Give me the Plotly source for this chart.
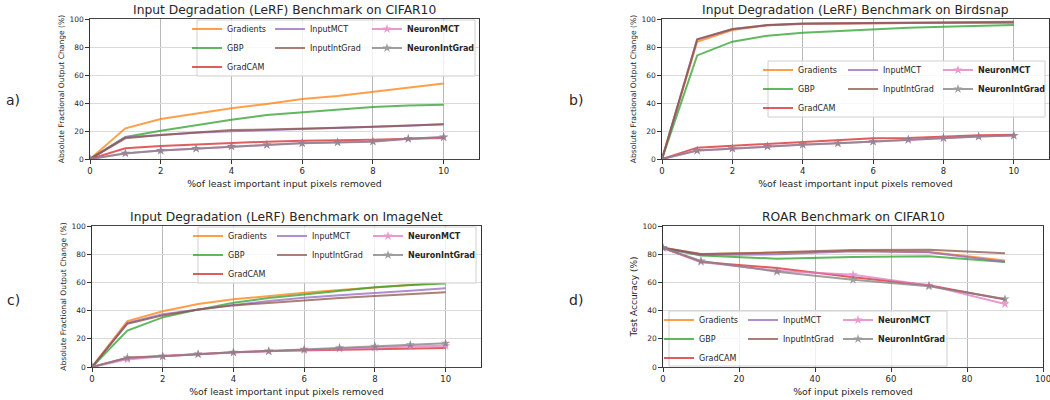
import plotly.graph_objects as go

# ---------------- data ----------------
x_lerf = [0, 1, 2, 3, 4, 5, 6, 7, 8, 9, 10]
x_roar = [0, 10, 30, 50, 70, 90]

method_names = ["Gradients", "GBP", "GradCAM", "InputMCT", "InputIntGrad",
                "<b>NeuronMCT</b>", "<b>NeuronIntGrad</b>"]

cifar_gradients = [0, 21.9, 28.6, 32.6, 36.2, 39.3, 42.9, 45.0, 47.9, 51.2, 54.0]
cifar_gbp = [0, 15.7, 20.2, 24.3, 28.1, 31.4, 33.3, 35.5, 37.1, 38.3, 38.8]
cifar_gradcam = [0, 7.6, 9.3, 10.5, 11.4, 12.4, 13.1, 13.3, 13.8, 14.5, 15.0]
cifar_inputmct = [0, 15.5, 17.1, 18.8, 19.8, 20.5, 21.7, 22.4, 23.1, 23.8, 24.8]
cifar_inputintgrad = [0, 14.8, 17.1, 19.0, 20.7, 21.0, 21.9, 22.4, 23.1, 23.8, 24.8]
cifar_neuronmct = [0, 4.2, 6.1, 7.5, 9.1, 10.1, 11.4, 12.0, 12.6, 14.4, 15.5]
cifar_neuronintgrad = [0, 4.0, 6.0, 7.4, 9.0, 10.0, 11.2, 11.9, 12.4, 14.5, 15.7]

birdsnap_gradients = [0, 83.8, 92.1, 95.5, 96.5, 96.9, 97.1, 97.2, 97.3, 97.4, 97.5]
birdsnap_gbp = [0, 74.0, 83.8, 88.1, 90.2, 91.4, 93.1, 93.8, 94.5, 95.2, 95.7]
birdsnap_gradcam = [0, 8.1, 9.5, 10.7, 12.4, 13.3, 14.8, 15.0, 16.2, 16.9, 17.4]
birdsnap_inputmct = [0, 85.3, 92.7, 95.6, 96.6, 96.9, 97.0, 97.1, 97.2, 97.3, 97.4]
birdsnap_inputintgrad = [0, 85.5, 92.9, 95.7, 96.7, 97.0, 97.2, 97.4, 97.6, 97.8, 98.0]
birdsnap_neuronmct = [0, 6.1, 7.5, 9.1, 10.3, 11.3, 12.5, 13.9, 15.1, 16.1, 16.8]
birdsnap_neuronintgrad = [0, 6.0, 7.4, 9.0, 10.2, 11.2, 12.4, 13.8, 15.0, 16.0, 16.7]

imagenet_gradients = [0, 32.6, 39.5, 44.7, 48.0, 50.6, 52.7, 54.6, 56.5, 58.4, 60.0]
imagenet_gbp = [0, 25.8, 35.2, 40.7, 45.6, 48.9, 51.5, 53.9, 56.5, 58.2, 59.3]
imagenet_gradcam = [0, 6.6, 7.8, 9.2, 10.4, 11.3, 11.8, 12.3, 12.5, 13.0, 13.5]
imagenet_inputmct = [0, 31.2, 37.4, 40.9, 44.0, 46.8, 49.2, 50.8, 52.7, 54.1, 55.8]
imagenet_inputintgrad = [0, 30.7, 36.6, 40.7, 43.7, 45.6, 47.0, 48.9, 50.4, 51.5, 53.0]
imagenet_neuronmct = [0, 5.4, 7.6, 9.0, 10.2, 11.1, 12.0, 13.0, 13.8, 14.5, 15.1]
imagenet_neuronintgrad = [0, 6.6, 7.6, 9.2, 10.4, 11.3, 12.5, 13.7, 14.7, 15.8, 16.8]

roar_gradients = [84.5, 79.9, 81.1, 82.3, 81.6, 75.6]
roar_gbp = [84.5, 79.0, 76.8, 78.0, 78.5, 74.5]
roar_gradcam = [84.5, 74.5, 70.2, 63.6, 57.9, 47.8]
roar_inputmct = [84.5, 79.4, 79.9, 82.1, 81.3, 74.7]
roar_inputintgrad = [84.5, 80.1, 81.3, 83.0, 83.2, 80.6]
roar_neuronmct = [84.5, 74.5, 68.3, 65.5, 57.9, 44.7]
roar_neuronintgrad = [84.5, 75.2, 67.6, 61.9, 57.2, 48.2]

titles = ["Input Degradation (LeRF) Benchmark on CIFAR10",
          "Input Degradation (LeRF) Benchmark on Birdsnap",
          "Input Degradation (LeRF) Benchmark on ImageNet",
          "ROAR Benchmark on CIFAR10"]
panel_labels = ["a)", "b)", "c)", "d)"]
xlabels = ["%of least important input pixels removed"] * 3 + ["%of input pixels removed"]
ylabels = ["Absolute Fractional Output Change (%)"] * 3 + ["Test Accuracy (%)"]

# ---------------- style / layout ----------------
colors = ["#ff7f0e", "#2ca02c", "#d62728", "#9467bd", "#8c564b", "#e377c2", "#7f7f7f"]
FONT = "DejaVu Sans"
W, H = 1050, 400


def fx(px):
    return px / W


def fy(py):
    return 1 - py / H


panels = [
    dict(x=x_lerf, series=[cifar_gradients, cifar_gbp, cifar_gradcam, cifar_inputmct,
                           cifar_inputintgrad, cifar_neuronmct, cifar_neuronintgrad],
         px=(90, 479), py=(19, 159), xr=[0, 11], dt=2,
         leg_x=[187, 270, 367], leg_top=14.5, box=(197, 475, 20, 76), lab=(13, 100)),
    dict(x=x_lerf, series=[birdsnap_gradients, birdsnap_gbp, birdsnap_gradcam, birdsnap_inputmct,
                           birdsnap_inputintgrad, birdsnap_neuronmct, birdsnap_neuronintgrad],
         px=(662, 1049), py=(19, 159), xr=[0, 11], dt=2,
         leg_x=[758, 843, 938], leg_top=55.5, box=(768, 1045, 61, 117), lab=(576, 100)),
    dict(x=x_lerf, series=[imagenet_gradients, imagenet_gbp, imagenet_gradcam, imagenet_inputmct,
                           imagenet_inputintgrad, imagenet_neuronmct, imagenet_neuronintgrad],
         px=(92, 481), py=(226, 367), xr=[0, 11], dt=2,
         leg_x=[188, 272, 368], leg_top=221.5, box=(198, 476, 227, 283), lab=(13, 300)),
    dict(x=x_roar, series=[roar_gradients, roar_gbp, roar_gradcam, roar_inputmct,
                           roar_inputintgrad, roar_neuronmct, roar_neuronintgrad],
         px=(663, 1043), py=(226, 367), xr=[0, 100], dt=20,
         leg_x=[659, 743, 838], leg_top=305.5, box=(669, 947, 311, 366), lab=(576, 300)),
]

# which legend column each method goes to
col_of = [0, 0, 0, 1, 1, 2, 2]

fig = go.Figure()
layout = dict(template="none", width=W, height=H,
              margin=dict(l=0, r=0, t=0, b=0, pad=0, autoexpand=False),
              paper_bgcolor="white", plot_bgcolor="white",
              font=dict(family=FONT, color="#262626"), showlegend=True)
annotations = []
shapes = []

for i, p in enumerate(panels):
    n = i + 1
    xa = "xaxis" if n == 1 else f"xaxis{n}"
    ya = "yaxis" if n == 1 else f"yaxis{n}"
    xref = "x" if n == 1 else f"x{n}"
    yref = "y" if n == 1 else f"y{n}"
    dx = [fx(p["px"][0]), fx(p["px"][1])]
    dy = [fy(p["py"][1]), fy(p["py"][0])]
    layout[xa] = dict(domain=dx, anchor=yref, range=p["xr"], dtick=p["dt"], tick0=0,
                      automargin=False, ticklabeloverflow="allow",
                      showgrid=True, gridcolor="#b8b8b8", gridwidth=1,
                      showline=True, mirror=True, linecolor="#444444", linewidth=1.2,
                      ticks="outside", ticklen=3.5, tickcolor="#333333",
                      tickfont=dict(size=8.5, family=FONT, color="#262626"),
                      zeroline=False,
                      title=dict(text=xlabels[i], font=dict(size=9.4, family=FONT), standoff=5))
    layout[ya] = dict(domain=dy, anchor=xref, range=[0, 100], dtick=20, tick0=0,
                      automargin=False, ticklabeloverflow="allow",
                      showgrid=True, gridcolor="#dadada", gridwidth=1,
                      showline=True, mirror=True, linecolor="#333333", linewidth=1.2,
                      ticks="outside", ticklen=3.5, tickcolor="#333333",
                      tickfont=dict(size=7.5, family=FONT, color="#262626"),
                      zeroline=False,
                      title=dict(text=ylabels[i], font=dict(size=7.6 if i < 3 else 9, family=FONT),
                                 standoff=3))

    # legends: three columns per panel
    for c in range(3):
        lid = 3 * i + c + 1
        lkey = "legend" if lid == 1 else f"legend{lid}"
        layout[lkey] = dict(x=fx(p["leg_x"][c]), y=fy(p["leg_top"]),
                            xanchor="left", yanchor="top", bgcolor="rgba(0,0,0,0)",
                            borderwidth=0, font=dict(size=8, family=FONT, color="#262626"),
                            itemwidth=30, tracegroupgap=0)
    bx0, bx1, by0, by1 = p["box"]
    shapes.append(dict(type="rect", xref="paper", yref="paper", layer="above",
                       x0=fx(bx0), x1=fx(bx1), y0=fy(by1), y1=fy(by0),
                       line=dict(color="#d0d0d0", width=1),
                       fillcolor="rgba(255,255,255,0.8)"))

    for k, (name, ys) in enumerate(zip(method_names, p["series"])):
        lid = 3 * i + col_of[k] + 1
        lkey = "legend" if lid == 1 else f"legend{lid}"
        star = k >= 5
        fig.add_trace(go.Scatter(
            x=p["x"], y=ys, name=name, xaxis=xref, yaxis=yref,
            mode="lines+markers" if star else "lines",
            line=dict(color=colors[k], width=2),
            marker=dict(symbol="star", size=7, color=colors[k]) if star else None,
            opacity=0.75, legend=lkey, showlegend=True))

    # subplot title
    annotations.append(dict(text=titles[i], xref="paper", yref="paper",
                            x=(dx[0] + dx[1]) / 2, y=dy[1], xanchor="center", yanchor="bottom",
                            yshift=0, showarrow=False,
                            font=dict(size=12.3, family=FONT, color="#262626")))
    # panel label
    annotations.append(dict(text=panel_labels[i], xref="paper", yref="paper",
                            x=fx(p["lab"][0]), y=fy(p["lab"][1]), xanchor="center",
                            yanchor="middle", showarrow=False,
                            font=dict(size=14, family=FONT, color="#262626")))

layout["annotations"] = annotations
layout["shapes"] = shapes
fig.update_layout(**layout)

# remove the browser's default page margin so the 1050x400 figure fills the window
page_fix = ("document.documentElement.style.margin='0';document.documentElement.style.padding='0';"
            "document.body.style.margin='0';document.body.style.padding='0';"
            "document.body.style.overflow='hidden';")
fig.write_html("out.html", post_script=page_fix,
               config={"displayModeBar": False, "staticPlot": True})
